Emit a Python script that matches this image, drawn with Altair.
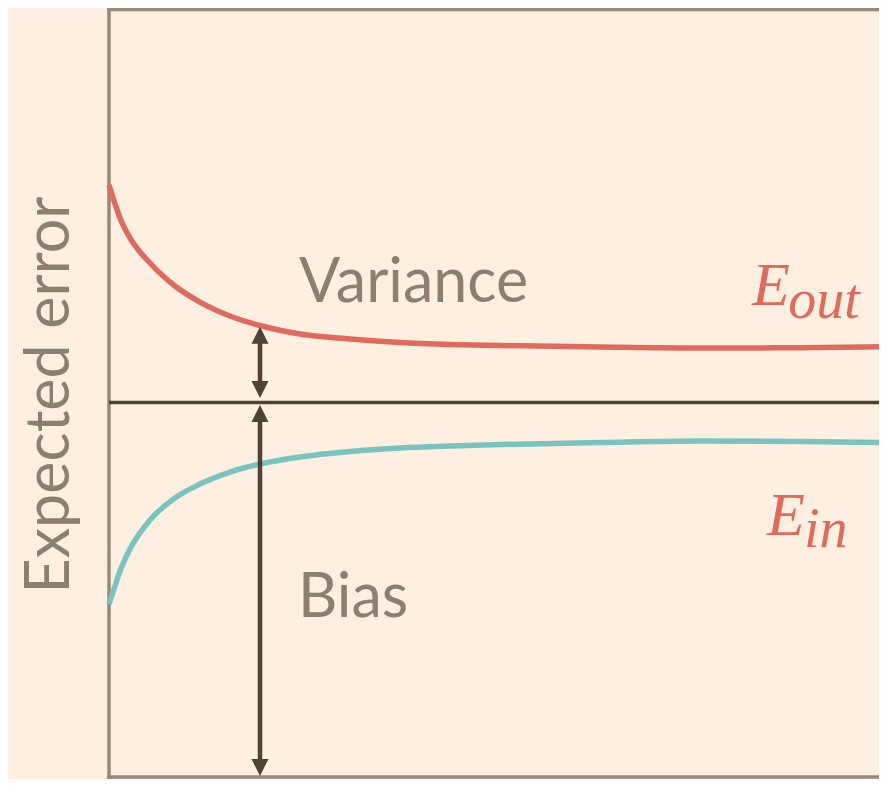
import altair as alt
import pandas as pd

# ---- data ----
N = [0, 0.75, 1.375, 2.625, 5.125, 8.25, 11.375, 15.125, 18.875, 23.875, 30.125,
     36.375, 42.625, 48.875, 61.375, 73.875, 86.375, 96.25]
E_OUT = [77.34, 74.89, 73.08, 70.50, 67.27, 64.30, 62.23, 60.43, 59.20, 58.10, 57.46,
         57.00, 56.75, 56.62, 56.42, 56.29, 56.33, 56.45]
E_IN = [23.24, 25.56, 27.50, 30.34, 34.09, 36.93, 38.73, 40.28, 41.32, 42.22, 42.93,
        43.38, 43.64, 43.83, 44.09, 44.29, 44.22, 44.09]
BIAS_LEVEL = 49.26
ARROW_N = 18.875
VAR_ARROW = [59.04, 49.84]     # top tip, bottom tip
BIAS_ARROW = [48.93, 1.05]     # top tip, bottom tip
X_MAX = 96.25
Y_MIN = 0.907
Y_MAX = 100

SANS_LABELS = ["Variance", "Bias"]
SANS_N = [23.75, 23.625]
SANS_V = [62.23, 21.56]
E_LABELS = ["E", "E"]
E_N = [80.375, 82.25]
E_V = [61.85, 32.15]
SUB_LABELS = ["out", "in"]
SUB_N = [84.9, 86.875]
SUB_V = [60.17, 30.60]

# ---- styles ----
BG = "#fdf0e0"
RED = "#e06a5d"
TEAL = "#7ac3c0"
DARK = "#4e4334"
FRAME = "#978877"
TEXT = "#8b7f6f"
HEAD = 2.0  # shaft shortening (data units) so it ends inside the arrowhead

xs = alt.Scale(domain=[0, X_MAX], nice=False, zero=False)
ys = alt.Scale(domain=[Y_MIN, Y_MAX], nice=False, zero=False)
yaxis = alt.Axis(labels=False, ticks=False, domain=False, grid=False,
                 titleFont="Lato", titleFontSize=61, titleFontWeight="normal",
                 titleColor=TEXT, titleAngle=270, titleAlign="center",
                 titleBaseline="alphabetic", titleX=-41, titleY=385)


def X(f):
    return alt.X(f, type="quantitative", scale=xs, axis=None)


def Y(f):
    return alt.Y(f, type="quantitative", scale=ys, axis=yaxis, title="Expected error")


curves = pd.DataFrame({
    "n": N + N,
    "v": E_OUT + E_IN,
    "s": ["Eout"] * len(N) + ["Ein"] * len(N),
})

frame = pd.DataFrame({
    "x": [0, 0, 0],
    "x2": [0, X_MAX, X_MAX],
    "y": [Y_MIN, Y_MAX, Y_MIN],
    "y2": [Y_MAX, Y_MAX, Y_MIN],
})

bias_line = pd.DataFrame({"x": [0], "x2": [X_MAX], "y": [BIAS_LEVEL]})

shafts = pd.DataFrame({
    "x": [ARROW_N, ARROW_N],
    "y": [VAR_ARROW[0] - HEAD, BIAS_ARROW[0] - HEAD],
    "y2": [VAR_ARROW[1] + HEAD, BIAS_ARROW[1] + HEAD],
})

heads = pd.DataFrame({
    "x": [ARROW_N] * 4,
    "y": [VAR_ARROW[0], VAR_ARROW[1], BIAS_ARROW[0], BIAS_ARROW[1]],
    "d": ["up", "down", "up", "down"],
})

sans = pd.DataFrame({"x": SANS_N, "y": SANS_V, "t": SANS_LABELS})
ebig = pd.DataFrame({"x": E_N, "y": E_V, "t": E_LABELS})
esub = pd.DataFrame({"x": SUB_N, "y": SUB_V, "t": SUB_LABELS})

frame_layer = alt.Chart(frame).mark_rule(color=FRAME, strokeWidth=3.5, strokeCap="square").encode(
    x=X("x"), x2=alt.X2("x2"), y=Y("y"), y2=alt.Y2("y2"))

bias_layer = alt.Chart(bias_line).mark_rule(color=DARK, strokeWidth=3.5).encode(
    x=X("x"), x2=alt.X2("x2"), y=Y("y"))

curve_layer = alt.Chart(curves).mark_line(strokeWidth=5.5, interpolate="monotone").encode(
    x=X("n"), y=Y("v"),
    color=alt.Color("s:N", scale=alt.Scale(domain=["Eout", "Ein"], range=[RED, TEAL]), legend=None))

shaft_layer = alt.Chart(shafts).mark_rule(color=DARK, strokeWidth=4.5).encode(
    x=X("x"), y=Y("y"), y2=alt.Y2("y2"))

head_layer = alt.Chart(heads).mark_point(filled=True, size=289, opacity=1, color=DARK, strokeWidth=0).encode(
    x=X("x"), y=Y("y"),
    shape=alt.Shape("d:N", scale=alt.Scale(domain=["up", "down"],
                                           range=["M0,0L1,2L-1,2Z", "M0,0L1,-2L-1,-2Z"]), legend=None))

sans_layer = alt.Chart(sans).mark_text(font="Lato", fontSize=61, color=TEXT, align="left",
                                       baseline="alphabetic").encode(x=X("x"), y=Y("y"), text="t:N")

ebig_layer = alt.Chart(ebig).mark_text(font="Liberation Serif", fontStyle="italic", fontSize=62, color=RED,
                                       align="left", baseline="alphabetic").encode(x=X("x"), y=Y("y"), text="t:N")

esub_layer = alt.Chart(esub).mark_text(font="Liberation Serif", fontStyle="italic", fontSize=56, color=RED,
                                       align="left", baseline="alphabetic").encode(x=X("x"), y=Y("y"), text="t:N")

chart = alt.layer(
    frame_layer, bias_layer, curve_layer, shaft_layer, head_layer, sans_layer, ebig_layer, esub_layer
).properties(
    width=770, height=767.5, autosize="none",
    padding={"left": 101, "top": 1.5, "right": 0, "bottom": 2},
    background=BG,
).configure_view(stroke=None)

chart.save("out.html", embed_options={"renderer": "svg", "actions": False})
